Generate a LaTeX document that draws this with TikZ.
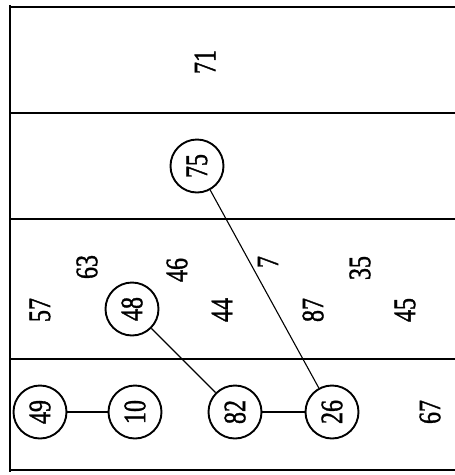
\documentclass[tikz,border=0pt]{standalone}
\usepackage{fontspec}
\setmainfont{Liberation Serif}
\newfontfamily\inkfont[FakeBold=1.4]{Liberation Serif}
\usepackage{graphicx}
% digits are set slightly tall and turned a quarter turn
\newcommand{\tallnum}[1]{\scalebox{1}[1.3]{#1}}
\tikzset{
  rule/.style={line width=1.4pt},
  key/.style={rotate=90, font=\inkfont\fontsize{24}{24}\selectfont, inner sep=0pt},
  ringed/.style={key, circle, draw, line width=1.9pt, minimum size=53pt},
  link/.style={line width=1.1pt}
}
\begin{document}
\begin{tikzpicture}[x=1pt, y=-1pt]
  \useasboundingbox (0,0) rectangle (455,475);
  % frame: left edge and the bands
  \draw[rule] (10,5) -- (10,472);
  \foreach \yy in {7,113,219,359,470}
    \draw[rule] (10,\yy) -- (455,\yy);

  % loose keys
  \node[key] (k71) at (205,62)  {\tallnum{71}};
  \node[key] (k57) at (40,310)  {\tallnum{57}};
  \node[key] (k63) at (87,267)  {\tallnum{63}};
  \node[key] (k46) at (177,270) {\tallnum{46}};
  \node[key] (k44) at (222,310) {\tallnum{44}};
  \node[key] (k7)  at (268,262) {\tallnum{7}};
  \node[key] (k87) at (313,310) {\tallnum{87}};
  \node[key] (k35) at (360,268) {\tallnum{35}};
  \node[key] (k45) at (405,310) {\tallnum{45}};
  \node[key] (k67) at (430,412) {\tallnum{67}};

  % circled keys
  \node[ringed] (c75) at (197,166) {\tallnum{75}};
  \node[ringed] (c48) at (132,309) {\tallnum{48}};
  \node[ringed] (c49) at (40,412)  {\tallnum{49}};
  \node[ringed] (c10) at (135,412) {\tallnum{10}};
  \node[ringed] (c82) at (235,412) {\tallnum{82}};
  \node[ringed] (c26) at (332,412) {\tallnum{26}};

  % links
  \draw[link] (c49) -- (c10);
  \draw[link] (c82) -- (c26);
  \draw[link] (c48) -- (c82);
  \draw[link] (c75) -- (c26);
\end{tikzpicture}
\end{document}
